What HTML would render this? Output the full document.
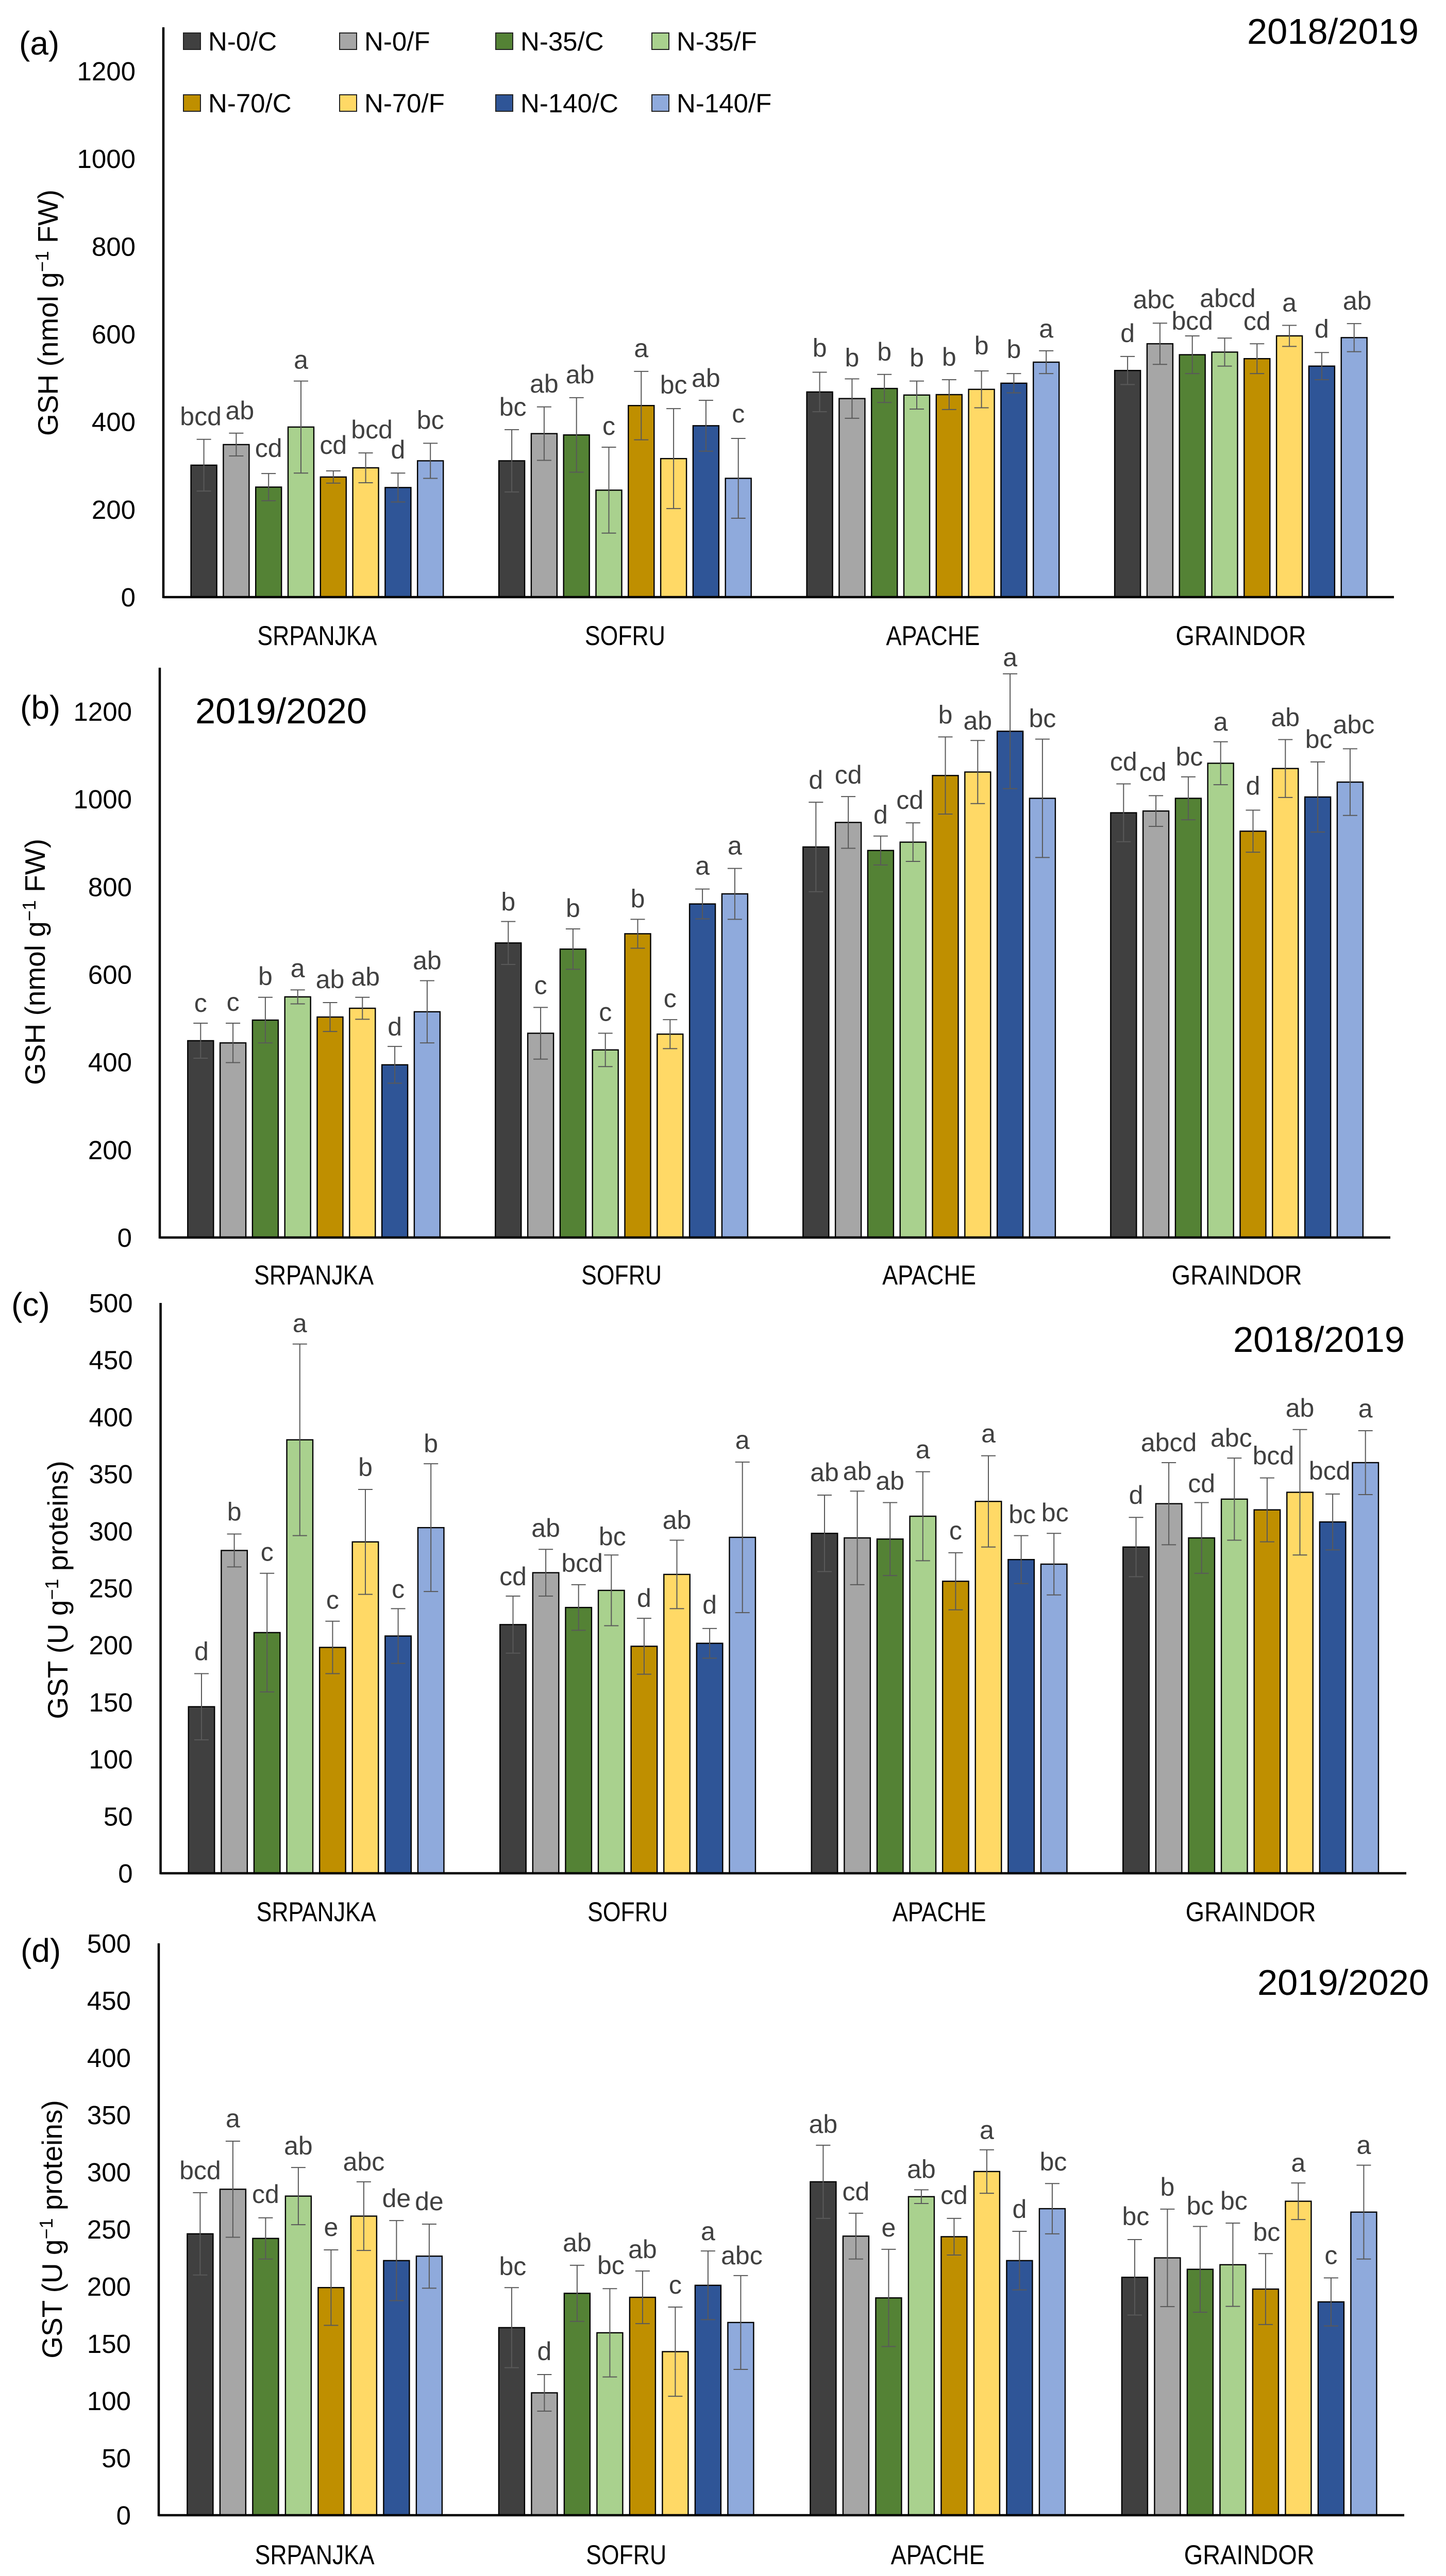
<!DOCTYPE html>
<html lang="en">
<head>
<meta charset="utf-8">
<title>GSH and GST by cultivar, nitrogen and treatment</title>
<style>
  html, body { margin: 0; padding: 0; background: #fff; width: 2806px; height: 5006px; overflow: hidden; }
  svg { display: block; position: absolute; left: 0; top: 0; overflow: hidden; }
  text { font-family: "Liberation Sans", sans-serif; }
</style>
</head>
<body>
<svg id="figure" xmlns="http://www.w3.org/2000/svg" width="2806" height="5006" viewBox="0 0 2806 5006"></svg>
<script>
const categories = ['SRPANJKA', 'SOFRU', 'APACHE', 'GRAINDOR'];
const seriesNames = ['N-0/C', 'N-0/F', 'N-35/C', 'N-35/F', 'N-70/C', 'N-70/F', 'N-140/C', 'N-140/F'];
const gshTicks = [0, 200, 400, 600, 800, 1000, 1200];
const gstTicks = [0, 50, 100, 150, 200, 250, 300, 350, 400, 450, 500];

const aMeans = [
  [301, 348, 251, 388, 274, 295, 250, 311],
  [311, 373, 370, 244, 437, 316, 391, 271],
  [468, 453, 476, 461, 462, 474, 488, 536],
  [517, 578, 553, 559, 544, 596, 527, 592]
];
const aErrors = [
  [59, 26, 31, 105, 14, 34, 33, 40],
  [71, 61, 85, 98, 78, 114, 58, 91],
  [45, 45, 32, 32, 34, 42, 22, 26],
  [32, 47, 43, 32, 34, 24, 31, 32]
];
const aLetters = [
  ['bcd', 'ab', 'cd', 'a', 'cd', 'bcd', 'd', 'bc'],
  ['bc', 'ab', 'ab', 'c', 'a', 'bc', 'ab', 'c'],
  ['b', 'b', 'b', 'b', 'b', 'b', 'b', 'a'],
  ['d', 'abc', 'bcd', 'abcd', 'cd', 'a', 'd', 'ab']
];

const bMeans = [
  [449, 444, 496, 549, 503, 523, 394, 515],
  [672, 466, 658, 428, 693, 464, 761, 784],
  [891, 947, 883, 902, 1054, 1062, 1155, 1002],
  [969, 973, 1002, 1082, 927, 1070, 1005, 1039]
];
const bErrors = [
  [40, 45, 52, 16, 33, 25, 42, 71],
  [49, 59, 46, 38, 33, 33, 34, 58],
  [102, 59, 33, 44, 88, 72, 131, 135],
  [66, 35, 49, 49, 48, 66, 80, 76]
];
const bLetters = [
  ['c', 'c', 'b', 'a', 'ab', 'ab', 'd', 'ab'],
  ['b', 'c', 'b', 'c', 'b', 'c', 'a', 'a'],
  ['d', 'cd', 'd', 'cd', 'b', 'ab', 'a', 'bc'],
  ['cd', 'cd', 'bc', 'a', 'd', 'ab', 'bc', 'abc']
];

const cMeans = [
  [146, 283, 211, 380, 198, 290.5, 208, 303],
  [218, 263.5, 233, 248, 199, 262, 201.6, 294.5],
  [298, 294, 293, 313, 256, 326, 275, 271],
  [286, 324, 294, 328, 318.6, 334, 308, 360]
];
const cErrors = [
  [29, 14.4, 52, 84, 23, 46, 24, 56],
  [25, 20.5, 20, 31, 24.5, 30, 13, 66],
  [33.5, 41, 32, 39, 25, 40, 21, 27],
  [26, 36, 31, 36, 28, 55, 24.5, 28]
];
const cLetters = [
  ['d', 'b', 'c', 'a', 'c', 'b', 'c', 'b'],
  ['cd', 'ab', 'bcd', 'bc', 'd', 'ab', 'd', 'a'],
  ['ab', 'ab', 'ab', 'a', 'c', 'a', 'bc', 'bc'],
  ['d', 'abcd', 'cd', 'abc', 'bcd', 'ab', 'bcd', 'a']
];

const dMeans = [
  [246, 285, 242, 279, 199, 261.5, 222.6, 226.5],
  [164, 107, 194, 159.5, 190.5, 143, 201, 168.5],
  [291.5, 244, 190, 278.5, 243.5, 300.5, 222.6, 268],
  [208, 225, 215, 219, 197.7, 274.5, 186.5, 265]
];
const dErrors = [
  [36, 42, 18, 25, 33, 30, 35, 28],
  [35, 16, 24.5, 38.6, 23, 39, 30, 41],
  [32, 20, 42.5, 6, 16, 19, 25.6, 22],
  [33, 42.6, 37.5, 36.4, 31, 16, 21, 41]
];
const dLetters = [
  ['bcd', 'a', 'cd', 'ab', 'e', 'abc', 'de', 'de'],
  ['bc', 'd', 'ab', 'bc', 'ab', 'c', 'a', 'abc'],
  ['ab', 'cd', 'e', 'ab', 'cd', 'a', 'd', 'bc'],
  ['bc', 'b', 'bc', 'bc', 'bc', 'a', 'c', 'a']
];

/* Styling and layout, kept apart from the data above */
const seriesColors = ['#404040', '#A6A6A6', '#548235', '#A9D18E', '#BF8F00', '#FFD966', '#2F5597', '#8FAADC'];
const categoryWidths = { SRPANJKA: 232, SOFRU: 156, APACHE: 182, GRAINDOR: 253 };

/* Hand-placement shifts of the significance letters, as in the source figure */
const aLetterDx = [[-6,7,0,0,0,12,0,0],[2,0,7,0,0,0,0,0],[0,0,0,0,0,0,0,0],[0,-12,0,6,0,0,0,6]];
const aLetterDy = [[-1,-1,-6,2,-7,-2,-2,-2],[-1,-2,-2,2,-2,-3,0,-5],[-4,2,-1,-2,-1,-6,-4,0],[-2,-3,14,-34,-1,-1,-3,-1]];
const bLetterDx = [[0,0,0,0,0,6,0,0],[0,0,0,0,0,0,0,0],[0,0,0,-6,0,0,0,0],[0,-6,2,0,0,0,2,7]];
const bLetterDy = [[4,2,2,1,-2,3,5,4],[5,0,3,2,3,2,-2,-1],[0,1,2,-1,0,5,11,3],[0,-3,4,4,-4,0,-1,-4]];
const cLetterDx = [[0,0,0,0,0,0,0,0],[0,0,7,2,0,0,0,0],[0,0,0,0,0,0,2,2],[0,0,0,-6,12,0,-6,0]];
const cLetterDy = [[0,0,2,3,2,0,5,4],[5,2,1,7,4,4,-3,0],[-1,4,1,0,0,0,2,3],[0,4,6,4,0,1,-2,0]];
const dLetterDx = [[0,0,0,0,0,0,0,0],[2,0,0,2,0,0,0,2],[0,0,0,0,0,0,0,2],[2,0,0,2,2,0,0,0]];
const dLetterDy = [[0,-1,-3,1,-1,4,0,-1],[2,-2,-1,-2,1,0,5,4],[2,1,1,3,-2,5,0,1],[-2,0,3,0,1,4,-1,4]];

const panels = [
  { id: 'a', means: aMeans, errors: aErrors, letters: aLetters, dx: aLetterDx, dy: aLetterDy,
    ticks: gshTicks, maxValue: 1300, axisX: 317, axisTop: 53, axisBottom: 1159, axisRight: 2705,
    firstBar: 395.6, barPitch: 62.8, barWidth: 50, groupPitch: 597.5, catY: 1233,
    titleMain: 'GSH (nmol g', titleEnd: ' FW)', titleX: 112, titleY: 607,
    tag: '(a)', tagX: 37, tagY: 106, year: '2018/2019', yearX: 2420, yearY: 85 },
  { id: 'b', means: bMeans, errors: bErrors, letters: bLetters, dx: bLetterDx, dy: bLetterDy,
    ticks: gshTicks, maxValue: 1300, axisX: 310, axisTop: 1296, axisBottom: 2402, axisRight: 2698,
    firstBar: 389.3, barPitch: 62.8, barWidth: 50, groupPitch: 597, catY: 2474,
    titleMain: 'GSH (nmol g', titleEnd: ' FW)', titleX: 87, titleY: 1867,
    tag: '(b)', tagX: 39, tagY: 1395, year: '2019/2020', yearX: 379, yearY: 1404 },
  { id: 'c', means: cMeans, errors: cErrors, letters: cLetters, dx: cLetterDx, dy: cLetterDy,
    ticks: gstTicks, maxValue: 500, axisX: 311.6, axisTop: 2529, axisBottom: 3636, axisRight: 2729,
    firstBar: 391, barPitch: 63.6, barWidth: 50.5, groupPitch: 604.5, catY: 3710,
    titleMain: 'GST (U g', titleEnd: ' proteins)', titleX: 131, titleY: 3086,
    tag: '(c)', tagX: 22, tagY: 2554, year: '2018/2019', yearX: 2393, yearY: 2624 },
  { id: 'd', means: dMeans, errors: dErrors, letters: dLetters, dx: dLetterDx, dy: dLetterDy,
    ticks: gstTicks, maxValue: 500, axisX: 308, axisTop: 3772, axisBottom: 4882, axisRight: 2725,
    firstBar: 388.4, barPitch: 63.5, barWidth: 50, groupPitch: 604.5, catY: 4958,
    titleMain: 'GST (U g', titleEnd: ' proteins)', titleX: 120, titleY: 4327,
    tag: '(d)', tagX: 40, tagY: 3808, year: '2019/2020', yearX: 2440, yearY: 3872 }
];

const SVG_NS = 'http://www.w3.org/2000/svg';
const figure = document.getElementById('figure');

function make(tag, attrs, parent) {
  const node = document.createElementNS(SVG_NS, tag);
  for (const key in attrs) node.setAttribute(key, attrs[key]);
  parent.appendChild(node);
  return node;
}

function xScale(panel, groupIndex, seriesIndex) {
  return panel.firstBar + groupIndex * panel.groupPitch + seriesIndex * panel.barPitch;
}

function yScale(panel, value) {
  return panel.axisBottom - (value / panel.maxValue) * (panel.axisBottom - panel.axisTop);
}

function drawPanel(panel) {
  const g = make('g', {}, figure);
  
  

  const tag = make('text', { x: panel.tagX, y: panel.tagY, 'font-size': 64, fill: '#000' }, g);
  tag.textContent = panel.tag;
  
  

  const year = make('text', { x: panel.yearX, y: panel.yearY, 'font-size': 70, fill: '#000', textLength: 333, lengthAdjust: 'spacingAndGlyphs' }, g);
  year.textContent = panel.year;
  
  

  const title = make('text', { transform: 'translate(' + panel.titleX + ',' + panel.titleY + ') rotate(-90)', 'text-anchor': 'middle', 'font-size': 55, fill: '#000' }, g);
  
  
  const titleStart = make('tspan', {}, title);
  titleStart.textContent = panel.titleMain;
  const titleSup = make('tspan', { dy: -18, 'font-size': 36 }, title);
  titleSup.textContent = '\u22121';
  const titleRest = make('tspan', { dy: 18 }, title);
  titleRest.textContent = panel.titleEnd;

  panel.ticks.forEach(function (tickValue) {
    const tick = make('text', { x: panel.axisX - 54, y: yScale(panel, tickValue) + 18, 'text-anchor': 'end', 'font-size': 51, fill: '#000' }, g);
    tick.textContent = String(tickValue);
    
    
  });

  categories.forEach(function (category, groupIndex) {
    panel.means[groupIndex].forEach(function (mean, seriesIndex) {
      const center = xScale(panel, groupIndex, seriesIndex);
      const top = yScale(panel, mean);
      const bar = make('rect', {
        x: center - panel.barWidth / 2, y: top, width: panel.barWidth,
        height: panel.axisBottom - top, fill: seriesColors[seriesIndex], stroke: '#000', 'stroke-width': 2.4
      }, g);
      
      

      const err = panel.errors[groupIndex][seriesIndex];
      const errTop = yScale(panel, mean + err);
      const errBottom = yScale(panel, mean - err);
      const path = 'M' + center + ' ' + errTop + 'V' + errBottom +
        'M' + (center - 14) + ' ' + errTop + 'H' + (center + 14) +
        'M' + (center - 14) + ' ' + errBottom + 'H' + (center + 14);
      const errorBar = make('path', { d: path, fill: 'none', stroke: '#595959', 'stroke-width': 2 }, g);
      
      

      const letter = make('text', {
        x: center + panel.dx[groupIndex][seriesIndex],
        y: errTop - 26 + panel.dy[groupIndex][seriesIndex],
        'text-anchor': 'middle', 'font-size': 50, fill: '#404040'
      }, g);
      letter.textContent = panel.letters[groupIndex][seriesIndex];
      
      
    });

    const catLabel = make('text', {
      x: xScale(panel, groupIndex, 3.5), y: panel.catY + 19, 'text-anchor': 'middle', 'font-size': 53, fill: '#000',
      textLength: categoryWidths[category], lengthAdjust: 'spacingAndGlyphs'
    }, g);
    catLabel.textContent = category;
    
    
  });

  const yAxis = make('line', { x1: panel.axisX, x2: panel.axisX, y1: panel.axisTop, y2: panel.axisBottom + 2, stroke: '#000', 'stroke-width': 4.5 }, g);
  
  

  const xAxis = make('line', { x1: panel.axisX, x2: panel.axisRight, y1: panel.axisBottom, y2: panel.axisBottom, stroke: '#000', 'stroke-width': 4.5 }, g);
  
  
}

function drawLegend() {
  const legend = make('g', {}, figure);
  
  
  const columnX = [356, 659, 962, 1265];
  const rowY = [64, 184];
  seriesNames.forEach(function (name, index) {
    const x = columnX[index % 4];
    const y = rowY[Math.floor(index / 4)];
    const swatch = make('rect', { x: x, y: y, width: 33, height: 32, fill: seriesColors[index], stroke: '#222', 'stroke-width': 2 }, legend);
    
    
    const label = make('text', { x: x + 48, y: y + 34, 'font-size': 51, fill: '#000' }, legend);
    label.textContent = name;
    
    
  });
}

panels.forEach(drawPanel);
drawLegend();
</script>
</body>
</html>
